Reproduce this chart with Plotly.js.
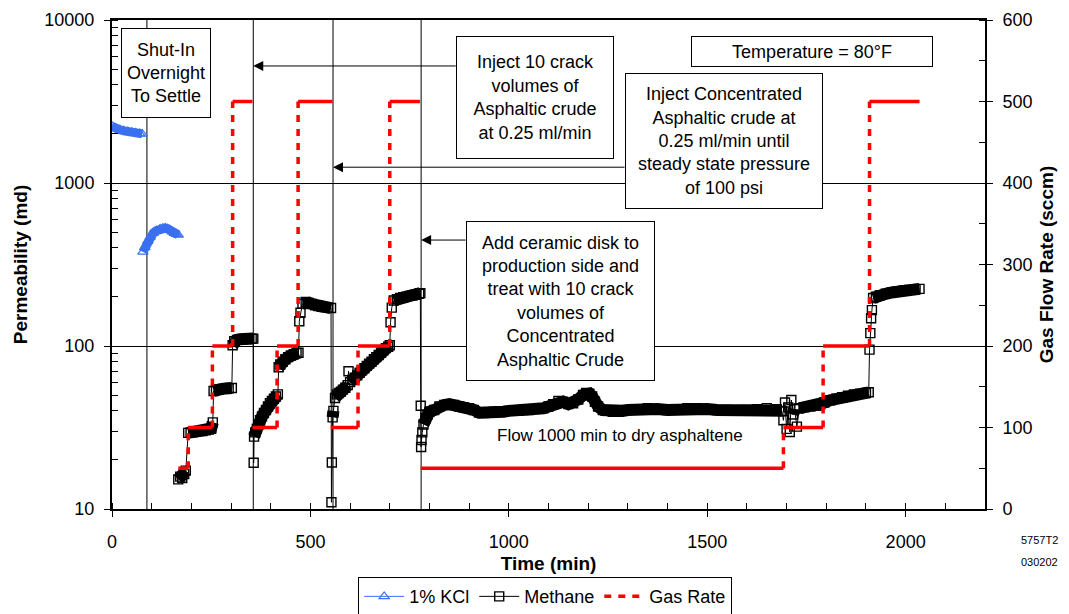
<!DOCTYPE html>
<html>
<head>
<meta charset="utf-8">
<script src="https://cdn.plot.ly/plotly-3.0.1.min.js"></script>
<style>html,body{margin:0;padding:0;background:#fff;}#chart{width:1069px;height:614px;}</style>
</head>
<body>
<div id="chart"></div>
<script>
// ---- data ----
// 1% KCl permeability (md) vs time (min); null separates the two groups
const kclTime = [0, 5, 10, 20, 30, 40, 50, 60, 70, 76, null,
                 78, 83, 90, 96, 104, 112, 121, 128, 134, 140, 146, 152, 157, 162, 167];
const kclPerm = [2230, 2190, 2160, 2120, 2090, 2070, 2050, 2030, 2010, 2000, null,
                 378, 403, 440, 466, 493, 510, 522, 527, 529, 524, 515, 503, 493, 486, 480];

// Methane permeability (md) vs time (min)
const methTime = [
  167, 172, 177, 182, 186,
  192, 198, 205, 212, 220, 228, 236, 244, 250, 254,
  256, 262, 270, 278, 286, 294, 302,
  304, 308, 315, 322, 330, 338, 346, 352, 356,
  357, 358, 361, 365, 369, 373, 378, 383, 388, 393, 398, 403, 408, 413, 418,
  420, 424, 430, 437, 444, 451, 458, 465, 470,
  472, 475, 480, 488, 496, 504, 512, 520, 528, 536, 544, 552,
  553, 554, 556, 558, 562, 567, 572, 577, 582, 588, 594, 596, 600, 606, 612, 618, 624, 630,
  636, 642, 648, 654, 660, 666, 672, 678, 684, 690, 696, 700,
  702, 705, 710, 718, 726, 734, 742, 750, 758, 766, 774, 777,
  778, 779, 780, 782, 785, 790, 795, 800, 812, 825, 837, 850, 862, 875, 887, 900, 912, 925,
  937, 950, 962, 975, 987, 1000, 1012, 1025, 1037, 1050, 1062, 1075, 1087, 1100, 1112, 1125,
  1137, 1150, 1162, 1175, 1187, 1195, 1203, 1210, 1217, 1225, 1237, 1250, 1262, 1275, 1287,
  1300, 1325, 1350, 1375, 1400, 1425, 1450, 1475, 1500, 1525, 1550, 1575, 1600, 1625, 1650,
  1675, 1688, 1692, 1696, 1700, 1704, 1708, 1712, 1716, 1720, 1726, 1732, 1745, 1760, 1775,
  1785, 1795, 1810, 1825, 1840, 1855, 1870, 1885, 1900, 1907,
  1909, 1911, 1913, 1915, 1918, 1925, 1935, 1950, 1965, 1980, 1995, 2010, 2025, 2035];
const methPerm = [
  15.2, 15.8, 15.5, 16.4, 17.2,
  29.3, 29.5, 29.6, 29.8, 30.0, 30.1, 30.4, 30.7, 31.2, 34,
  53, 54, 54.3, 54.6, 54.8, 55, 55.2,
  101, 107, 109, 110, 110, 110.5, 111, 111, 111,
  19.2, 27.8, 29.5, 31, 33, 35, 37, 38.8, 40.5, 42.5, 44.5, 46, 47.5, 49, 50.5,
  74, 77, 80, 83, 85.5, 87.5, 89, 90.5, 91,
  142, 160, 182, 186, 184, 181, 178, 176, 174, 173, 172, 171,
  11, 19.3, 36.5, 40, 48, 50.5, 51.5, 52.5, 54, 55.5, 57.5, 70, 60, 62, 64, 66, 68.5, 71,
  73, 75.5, 78, 80, 83, 85.5, 88, 91, 94, 97, 99, 101,
  140, 172, 190, 194, 197, 199, 201, 203, 205, 207, 209, 211,
  43, 24, 26.5, 29.5, 33, 36, 38, 39.5, 40.5, 42.5, 43.5, 44, 43.5, 42.5, 42, 41.5, 40.5, 39,
  38.8, 39, 39.5, 39.5, 39.5, 40, 40, 40, 40.5, 40.5, 41, 41.5, 41.5, 42.5, 44, 46,
  45.5, 44, 44.5, 47, 50, 51.5, 51, 49, 45.5, 42.5, 40.5, 40, 39.5, 39.5, 40,
  40.5, 41, 41.5, 41, 40.5, 41, 41.5, 41.5, 41, 40.5, 40.5, 40, 40.5, 41, 41.5,
  41, 40, 35, 45, 31, 42, 29.7, 46.6, 38, 41, 32, 41.5, 42, 42.5, 43,
  44, 45, 46.5, 47.5, 48.5, 49.5, 50.5, 51, 51.5, 52,
  95, 120, 148, 166, 197, 201, 205, 209, 213, 216, 219, 221, 223, 224];

// Gas flow rate (sccm) vs time (min); null separates the drawn pieces
const gasTime = [167, 192, 192, 253, 253, 304, 304, 354, null,
                 354, 416, 416, 469, 469, 556, null,
                 551, 620, 620, 700, 700, 776, null,
                 778, 1692, 1692, 1792, 1792, 1909, 1909, 2035];
const gasRate = [50, 50, 100, 100, 200, 200, 500, 500, null,
                 100, 100, 200, 200, 500, 500, null,
                 100, 100, 200, 200, 500, 500, null,
                 50, 50, 100, 100, 200, 200, 500, 500];

// event times (min) marked by vertical lines
const eventTimes = [88, 356, 557, 779];

// ---- helpers ----
function denseRuns(xs, ys, maxStep) {
  const bx = [], by = [];
  let open = false;
  for (let i = 0; i < xs.length - 1; i++) {
    const a = ys[i], b = ys[i + 1];
    const ok = a != null && b != null && Math.abs(Math.log10(b / a)) <= maxStep;
    if (ok) {
      if (!open) { bx.push(xs[i]); by.push(a); open = true; }
      bx.push(xs[i + 1]); by.push(b);
    } else if (open) { bx.push(null); by.push(null); open = false; }
  }
  return {x: bx, y: by};
}
function splitSteps(xs, ys) {
  const h = {x: [], y: []}, v = {x: [], y: []};
  for (let i = 0; i < xs.length - 1; i++) {
    if (ys[i] == null || ys[i + 1] == null) continue;
    const t = ys[i] === ys[i + 1] ? h : v;
    t.x.push(xs[i], xs[i + 1], null); t.y.push(ys[i], ys[i + 1], null);
  }
  return {h, v};
}

const FONT = 'Liberation Sans, Arial, sans-serif';
const KCL = '#3a6ff0';
const RED = '#ff0000';

const methBand = denseRuns(methTime, methPerm, 0.04);
const kclBand = denseRuns(kclTime, kclPerm, 0.04);
const gasParts = splitSteps(gasTime, gasRate);

const traces = [
  {x: kclTime, y: kclPerm, name: '1% KCl', mode: 'lines+markers', yaxis: 'y',
   line: {color: KCL, width: 1}, marker: {symbol: 'triangle-up-open', size: 9, color: KCL, line: {width: 1.2, color: KCL}}},
  {x: kclBand.x, y: kclBand.y, mode: 'lines', showlegend: false, hoverinfo: 'skip',
   line: {color: KCL, width: 9}},
  {x: methTime, y: methPerm, name: 'Methane', mode: 'lines+markers', yaxis: 'y',
   line: {color: '#000', width: 1}, marker: {symbol: 'square-open', size: 9, color: '#000', line: {width: 1.4, color: '#000'}}},
  {x: methBand.x, y: methBand.y, mode: 'lines', showlegend: false, hoverinfo: 'skip',
   line: {color: '#000', width: 12}},
  {x: gasParts.h.x, y: gasParts.h.y, mode: 'lines', yaxis: 'y2', showlegend: false, hoverinfo: 'skip',
   line: {color: RED, width: 3.5}},
  {x: gasParts.v.x, y: gasParts.v.y, name: 'Gas Rate', mode: 'lines', yaxis: 'y2',
   line: {color: RED, width: 3.5, dash: '7px,7px'}}
];

const shapes = eventTimes.map(t => ({
  type: 'line', xref: 'x', yref: 'paper', x0: t, x1: t, y0: 0, y1: 1,
  line: {color: '#000', width: 1}, layer: 'below'
}));

function box(text, xp, yp, w, h, size) {
  return {text: text, xref: 'paper', yref: 'paper', x: xp, y: yp, xanchor: 'center', yanchor: 'middle',
    showarrow: false, width: w, height: h, align: 'center', valign: 'middle',
    bgcolor: '#fff', bordercolor: '#000', borderwidth: 1, borderpad: 1,
    font: {family: FONT, size: size || 18, color: '#000'}};
}
function arrow(t, yp, len) {
  return {text: '', xref: 'x', yref: 'paper', x: t, y: yp, ax: len, ay: 0, axref: 'pixel', ayref: 'pixel',
    showarrow: true, arrowhead: 2, arrowsize: 2, arrowwidth: 1, arrowcolor: '#000', standoff: 0};
}

const annotations = [
  box('Shut-In<br>Overnight<br>To Settle', 0.0624, 0.8926, 86, 86),
  box('Inject 10 crack<br>volumes of<br>Asphaltic crude<br>at 0.25 ml/min', 0.4845, 0.8415, 154, 119),
  box('Inject Concentrated<br>Asphaltic crude at<br>0.25 ml/min until<br>steady state pressure<br>of 100 psi', 0.701, 0.7526, 194, 132),
  box('Add ceramic disk to<br>production side and<br>treat with 10 crack<br>volumes of<br>Concentrated<br>Asphaltic Crude', 0.5137, 0.4254, 185, 156),
  box('Temperature = 80°F', 0.8018, 0.9356, 238, 27),
  arrow(eventTimes[1], 0.906, 204),
  arrow(eventTimes[2], 0.699, 293),
  arrow(eventTimes[3], 0.550, 46),
  {text: 'Flow 1000 min to dry asphaltene', xref: 'paper', yref: 'paper', x: 0.5819, y: 0.1513,
   xanchor: 'center', yanchor: 'middle', showarrow: false, font: {family: FONT, size: 17, color: '#000'}},
  {text: '5757T2', xref: 'paper', yref: 'paper', x: 1.063, y: -0.0634, xanchor: 'center', yanchor: 'middle',
   showarrow: false, font: {family: FONT, size: 11, color: '#000'}},
  {text: '030202', xref: 'paper', yref: 'paper', x: 1.063, y: -0.1084, xanchor: 'center', yanchor: 'middle',
   showarrow: false, font: {family: FONT, size: 11, color: '#000'}}
];

const axisFont = {family: FONT, size: 18, color: '#000'};
const titleFont = {family: FONT, size: 19, color: '#000', weight: 700};

const layout = {
  width: 1069, height: 614,
  margin: {l: 112, r: 84, t: 20, b: 105},
  paper_bgcolor: '#fff', plot_bgcolor: '#fff',
  font: {family: FONT, color: '#000'},
  showlegend: true,
  legend: {orientation: 'h', x: 0.51, xref: 'container', xanchor: 'center', y: 0.06, yref: 'container', yanchor: 'top',
    bordercolor: '#000', borderwidth: 1, font: {family: FONT, size: 18, color: '#000'},
    itemwidth: 40, tracegroupgap: 0, valign: 'middle'},
  xaxis: {range: [0, 2200], dtick: 500, tick0: 0, showgrid: false, zeroline: false, automargin: false,
    showline: true, linecolor: '#000', linewidth: 2, mirror: true,
    ticks: 'outside', ticklen: 6, tickcolor: '#000', tickwidth: 1,
    minor: {dtick: 100, ticks: 'inside', ticklen: 6, tickcolor: '#000', tickwidth: 1, showgrid: false},
    tickfont: axisFont, ticklabelstandoff: 9,
    title: {text: 'Time (min)', font: titleFont, standoff: 6}},
  yaxis: {type: 'log', range: [1, 4], dtick: 1, showgrid: true, gridcolor: '#000', gridwidth: 1, automargin: false,
    zeroline: false, showline: true, linecolor: '#000', linewidth: 2,
    ticks: 'outside', ticklen: 6, tickcolor: '#000', tickwidth: 1,
    minor: {dtick: 'D1', ticks: 'inside', ticklen: 6, tickcolor: '#000', tickwidth: 1, showgrid: false},
    tickfont: axisFont, ticklabelstandoff: 6, tickformat: 'd',
    title: {text: 'Permeability (md)', font: titleFont, standoff: 12}},
  yaxis2: {overlaying: 'y', side: 'right', range: [0, 600], dtick: 100, showgrid: false, zeroline: false, automargin: false,
    showline: true, linecolor: '#000', linewidth: 2,
    ticks: 'outside', ticklen: 6, tickcolor: '#000', tickwidth: 1,
    minor: {dtick: 50, ticks: 'inside', ticklen: 6, tickcolor: '#000', tickwidth: 1, showgrid: false},
    tickfont: axisFont, ticklabelstandoff: 6,
    title: {text: 'Gas Flow Rate (sccm)', font: titleFont, standoff: 8}},
  shapes: shapes,
  annotations: annotations
};

Plotly.newPlot('chart', traces, layout, {displayModeBar: false, staticPlot: true});
</script>
</body>
</html>
